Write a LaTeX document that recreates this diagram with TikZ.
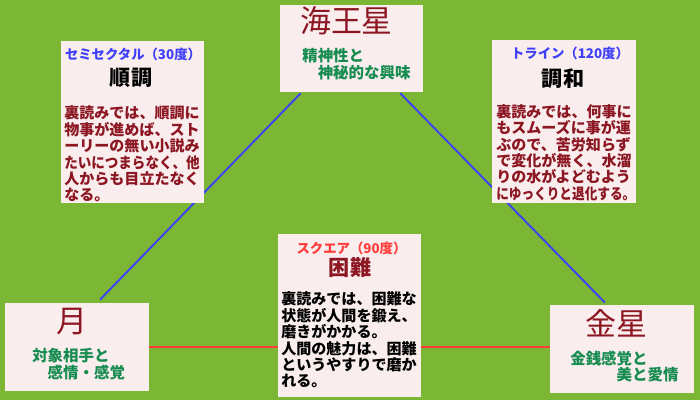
\documentclass[tikz,border=0pt]{standalone}
\usepackage{fontspec}
\setmainfont{Noto Sans CJK JP}
\usetikzlibrary{calc}
\definecolor{bggreen}{RGB}{123,182,53}
\definecolor{boxpink}{RGB}{249,237,237}
\definecolor{aspblue}{RGB}{64,64,250}
\definecolor{aspred}{RGB}{255,60,60}
\definecolor{darkred}{RGB}{140,22,34}
\definecolor{subgreen}{RGB}{22,140,80}
\newcommand{\squeeze}[2]{\scalebox{#1}[1]{#2}}

\begin{document}
\begin{tikzpicture}[
            x=0.025cm, y=-0.025cm,
            box/.style={fill=boxpink, inner sep=0pt, minimum width=3.575cm},
            planet/.style={inner sep=0pt, text=darkred, font=\fontsize{22}{26}\selectfont},
            sub/.style={inner sep=0pt, anchor=west, align=left, text=subgreen, font=\fontsize{11}{11.7}\selectfont\bfseries},
            head/.style={inner sep=0pt, font=\fontsize{9.5}{11}\selectfont\bfseries},
            key/.style={inner sep=0pt, font=\fontsize{15}{17}\selectfont\bfseries},
            body/.style={inner sep=0pt, anchor=west, align=left, font=\fontsize{10.7}{11.7}\selectfont\bfseries},
            link/.style={line width=1.35pt}
        ]
            \fill[bggreen] (0,0) rectangle (700,400);

            \node[box, minimum height=2.175cm] (nep)   at (351.5,48.5) {};
            \node[box, minimum height=2.2cm]   (moon)  at (77,347)     {};
            \node[box, minimum height=2.2cm]   (venus) at (622,349)    {};

            \draw[link, aspblue] ($(moon.north)+(23,-3)$) -- ($(nep.south west)+(21,1)$);
            \draw[link, aspblue] ($(nep.south east)+(-23,1)$) -- ($(venus.north)+(-17,-2)$);
            \draw[link, aspred] (moon.east) -- (moon.east -| venus.west);

            \node[box, minimum height=4.05cm]  (semi)   at (132.5,122) {};
            \node[box, minimum height=4.075cm] (trine)  at (564,121.5) {};
            \node[box, minimum height=4.075cm] (square) at (349.5,315.5) {};

            \node[planet] (neptitle)   at (346.5,21) {海王星};
            \node[sub]    (nepsub)     at (302,64)   {精神性と\\　神秘的な興味};
            \node[planet] (moontitle)  at (72,322)   {月};
            \node[sub]    (moonsub)    at (32,364)   {対象相手と\\　感情・感覚};
            \node[planet] (venustitle) at (616.5,323) {金星};
            \node[sub]    (venussub)   at (570,366.5) {金銭感覚と\\　　　美と愛情};

            \node[head, text=aspblue] (semihead) at (133,54) {セミセクタル（30度）};
            \node[key] (semikey) at (131,77.5) {順調};
            \node[body, text=darkred] (semibody) at (64,154) {裏読みでは、順調に\\物事が進めば、スト\\ーリーの無い小説み\\\squeeze{0.9}{たいにつまらなく、他}\\人からも目立たなく\\なる。};

            \node[head, text=aspblue] (trinehead) at (570,53.5) {トライン（120度）};
            \node[key] (trinekey) at (563,78.5) {調和};
            \node[body, text=darkred] (trinebody) at (496,152.5) {裏読みでは、何事に\\もスムーズに事が運\\ぶので、苦労知らず\\で変化が無く、水溜\\りの水がよどむよう\\\squeeze{0.84}{にゆっくりと退化する。}};

            \node[head, text=aspred] (squarehead) at (351.5,248) {スクエア（90度）};
            \node[key, text=darkred] (squarekey) at (350,267.5) {困難};
            \node[body] (squarebody) at (281,340) {裏読みでは、困難な\\状態が人間を鍛え、\\磨きがかかる。\\人間の魅力は、困難\\というやすりで磨か\\れる。};
        \end{tikzpicture}
\end{document}
